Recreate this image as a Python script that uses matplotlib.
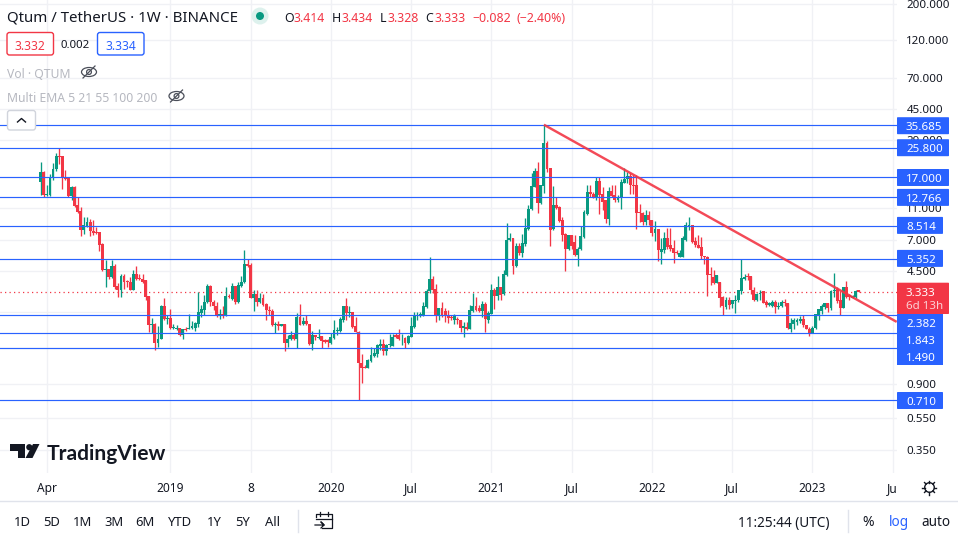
import numpy as np
import pandas as pd
import matplotlib
matplotlib.use("Agg")
import matplotlib.pyplot as plt
import matplotlib.dates as mdates
from matplotlib.patches import FancyBboxPatch, Rectangle, Polygon, Circle, Ellipse

plt.rcParams['font.family'] = ['Noto Sans', 'DejaVu Sans']

start_week = "2018-03-19"

opens = [16.0,18.4,13.2,13.2,17.0,19.1,23.1,23.1,17.2,16.9,
13.0,14.9,11.4,10.5,8.02,8.49,8.99,7.87,7.76,7.80,
6.56,4.55,4.60,4.12,4.80,3.61,3.44,4.16,3.87,3.85,
3.44,4.28,4.06,4.02,3.93,3.13,2.08,2.12,1.61,1.70,
2.71,2.25,2.29,1.99,1.97,1.98,1.79,1.96,1.97,2.00,
2.00,2.10,2.46,2.56,2.89,3.61,2.90,2.71,2.35,2.44,
2.37,3.13,3.01,3.61,2.88,3.61,3.82,4.93,4.87,3.04,
3.22,2.88,3.04,2.79,2.56,2.54,2.07,2.12,2.06,2.10,
1.61,1.69,1.79,1.69,2.33,2.10,2.19,2.12,1.58,1.79,
1.72,1.77,1.67,1.67,1.61,1.72,1.90,1.91,2.24,2.71,
2.46,2.49,2.04,1.89,1.20,1.14,1.13,1.25,1.33,1.37,
1.54,1.58,1.44,1.55,1.54,1.79,1.79,1.69,1.72,1.61,
1.75,2.02,2.35,2.37,2.37,2.69,3.35,3.98,3.47,2.37,
2.64,2.52,2.37,2.33,2.24,2.26,2.22,2.00,2.02,1.96,
2.54,2.74,2.64,2.54,2.79,2.24,2.44,3.41,3.13,3.57,
3.22,4.24,7.01,7.17,4.80,6.38,5.75,6.56,8.18,10.8,
14.9,18.7,11.8,15.1,27.6,19.3,8.10,11.4,11.2,9.25,
7.58,6.09,7.47,6.75,5.60,6.12,7.22,10.1,13.9,13.5,
12.8,16.1,13.4,12.3,9.38,14.0,13.2,12.3,12.8,15.8,
16.5,17.3,15.2,15.2,10.4,10.2,9.0,9.97,9.25,7.65,
8.10,5.86,6.03,7.18,6.47,6.26,5.86,5.48,5.48,7.01,
8.49,8.58,6.88,6.53,6.32,5.53,5.48,4.28,
4.12,3.78,3.84,3.10,2.69,2.95,2.78,2.93,2.95,3.35,4.02,
4.16,4.16,3.44,2.95,3.22,3.35,2.89,2.76,2.73,2.89,
2.69,2.71,2.89,2.85,1.97,2.12,2.17,2.21,2.26,2.07,
1.97,1.86,1.98,2.38,2.54,2.69,2.82,2.66,3.35,3.49,
2.98,2.66,3.57,3.20,3.07,3.10,3.414]

highs = [21.2,18.6,15.2,17.8,21.0,24.2,26.0,23.1,18.9,16.9,
15.0,15.0,12.8,11.1,9.70,9.70,9.34,9.25,8.33,7.80,
6.69,5.23,4.60,5.23,4.93,3.75,4.32,4.28,3.96,4.12,
4.57,4.80,4.32,4.32,3.93,3.13,2.28,2.14,2.04,2.75,
3.03,2.38,2.59,2.10,2.08,2.00,1.97,2.02,2.44,2.19,
2.17,3.31,2.75,3.18,3.72,3.66,2.95,2.90,2.62,2.71,
3.57,3.25,3.78,3.61,3.84,4.20,6.03,5.35,5.02,3.41,
3.41,3.28,3.25,2.82,2.71,2.59,2.18,2.19,2.12,2.10,
1.79,1.91,1.84,2.46,2.79,2.33,2.38,2.12,1.91,1.79,
1.95,1.77,1.71,1.69,1.84,2.22,2.02,2.33,2.71,3.07,
2.71,2.49,2.33,1.91,1.37,1.17,1.27,1.51,1.49,1.58,
1.71,1.71,1.58,1.82,1.82,1.84,1.95,1.82,1.74,1.79,
2.33,2.51,2.51,2.51,2.89,3.49,5.43,4.16,3.72,2.64,
2.90,2.66,2.56,2.38,2.42,2.33,2.24,2.18,2.17,2.75,
3.28,3.10,2.75,2.93,2.89,2.52,3.72,3.54,4.20,3.57,
4.57,8.82,7.65,7.17,6.69,6.69,7.58,9.47,11.4,18.2,
19.5,21.1,15.2,36.0,28.6,19.3,15.0,12.8,11.3,9.60,
7.65,7.47,7.47,7.47,6.32,8.49,10.7,15.2,15.2,13.9,
17.0,17.0,14.9,12.4,14.9,15.2,15.2,13.2,16.5,19.3,
18.4,18.0,17.6,17.6,11.7,10.4,10.7,10.5,9.25,9.15,
8.10,7.12,7.80,8.22,8.22,6.95,6.03,6.03,7.36,9.00,
9.70,8.58,7.22,7.47,7.29,5.58,5.58,4.75,
4.53,4.22,3.84,3.13,3.10,3.10,2.95,3.18,3.41,5.35,4.28,
4.36,4.16,3.57,3.28,3.41,3.35,2.95,2.89,2.95,2.95,
2.89,2.95,2.99,2.85,2.28,2.28,2.28,2.35,2.41,2.07,
2.02,2.04,2.42,2.59,2.79,2.85,2.85,3.44,4.36,3.57,
3.35,3.57,3.87,3.25,3.18,3.41,3.434]

lows = [13.2,12.8,13.0,13.0,16.4,18.7,20.6,14.4,16.4,12.8,
12.3,11.1,10.3,7.40,7.58,8.33,7.36,7.47,7.58,5.97,
4.49,3.57,4.00,4.08,3.49,3.10,3.10,3.49,3.57,3.41,
3.41,3.96,3.93,3.78,2.95,1.87,1.84,1.46,1.52,1.70,
2.24,2.10,1.97,1.95,1.93,1.77,1.69,1.90,1.95,1.95,
1.91,2.02,2.33,2.38,2.85,2.71,2.56,2.31,2.26,2.28,
2.35,3.03,2.95,2.79,2.82,3.57,3.78,4.75,3.03,2.54,
2.71,2.85,2.74,2.22,2.38,2.05,1.84,1.93,2.04,1.44,
1.52,1.67,1.67,1.49,2.07,2.07,2.07,1.56,1.45,1.67,
1.70,1.49,1.61,1.52,1.59,1.70,1.80,1.89,2.17,2.24,
2.33,2.00,1.87,0.715,0.91,1.12,1.12,1.23,1.31,1.31,
1.45,1.35,1.36,1.52,1.54,1.72,1.67,1.56,1.49,1.59,
1.74,2.00,2.22,2.31,2.35,2.66,3.28,3.28,2.16,2.22,
2.33,2.17,2.14,2.22,2.10,2.10,1.87,1.75,1.93,1.95,
2.51,2.54,2.49,2.33,1.88,2.14,2.42,2.62,2.95,2.95,
3.20,4.20,6.88,4.32,4.75,5.64,5.43,6.44,8.02,10.7,
14.8,10.2,11.7,13.7,18.4,6.44,8.02,10.9,9.00,6.90,
4.49,6.03,6.17,5.53,4.84,6.03,7.12,10.0,12.9,12.6,
12.3,10.1,10.7,8.82,8.58,12.8,11.9,12.0,10.9,15.6,
15.6,13.5,13.5,8.10,9.0,8.6,8.6,8.6,7.36,6.90,
5.13,4.98,5.75,6.17,5.97,5.03,5.70,5.48,5.43,6.88,
8.02,6.63,6.32,6.20,5.35,4.98,3.15,3.66,
3.72,3.75,2.69,2.38,2.62,2.62,2.66,2.46,2.89,3.25,3.93,
3.93,3.25,2.93,2.93,2.95,2.82,2.69,2.71,2.69,2.46,
2.62,2.69,2.71,1.95,1.88,1.95,2.07,2.14,2.02,1.95,
1.78,1.84,1.97,2.22,2.44,2.62,2.51,2.56,3.10,2.85,
2.38,2.64,3.03,2.95,3.07,3.07,3.328]

closes = [18.4,13.2,13.4,17.0,19.1,23.1,22.8,17.0,16.6,13.0,
14.9,11.3,10.4,8.02,8.58,8.99,7.87,7.72,7.68,6.50,
4.53,4.60,4.12,4.80,3.57,3.44,4.16,3.84,3.84,3.44,
4.28,4.02,4.00,3.82,3.10,2.08,2.12,1.61,1.71,2.71,
2.25,2.29,1.98,2.02,2.00,1.79,1.95,1.93,2.00,2.04,
2.14,2.49,2.59,2.90,3.61,2.89,2.71,2.35,2.44,2.36,
3.13,3.10,3.61,2.88,3.66,3.84,4.93,4.84,3.05,3.22,
2.88,3.04,2.77,2.56,2.52,2.07,2.12,2.04,2.10,1.61,
1.70,1.79,1.70,2.33,2.08,2.19,2.10,1.58,1.79,1.74,
1.75,1.66,1.64,1.62,1.74,1.93,1.93,2.25,2.71,2.46,
2.51,2.02,1.89,1.20,1.13,1.13,1.26,1.35,1.40,1.55,
1.58,1.44,1.56,1.58,1.75,1.74,1.69,1.71,1.61,1.77,
2.04,2.37,2.40,2.42,2.71,3.35,3.98,3.44,2.37,2.64,
2.40,2.36,2.29,2.29,2.37,2.22,1.98,2.04,1.95,2.56,
2.74,2.56,2.54,2.79,2.25,2.46,3.41,3.13,3.57,3.20,
4.28,7.01,7.17,4.80,6.38,5.75,6.63,8.26,10.8,15.0,
18.7,11.8,15.2,27.6,19.1,8.02,11.4,11.0,9.15,7.47,
6.12,7.47,6.38,5.60,6.17,7.36,10.4,13.8,13.4,12.8,
16.1,13.2,12.0,9.38,14.0,13.0,12.3,12.9,15.9,16.5,
17.3,15.2,15.1,10.3,10.2,9.0,9.97,9.25,7.65,8.10,
6.03,6.12,7.18,6.32,6.09,5.79,5.79,5.75,7.12,8.58,
8.58,6.79,6.47,6.26,5.53,5.43,4.22,4.22,
3.78,4.22,3.07,2.71,2.95,2.76,2.95,2.98,3.41,4.08,4.12,
4.10,3.41,2.95,3.25,3.28,2.85,2.76,2.85,2.89,2.69,
2.74,2.89,2.82,1.99,2.14,2.22,2.22,2.26,2.07,1.97,
1.86,2.00,2.42,2.59,2.74,2.82,2.66,3.38,3.44,2.93,
2.66,3.57,3.10,3.10,3.13,3.38,3.333]

level_prices = [35.685, 25.800, 17.000, 12.766, 8.514, 5.352, 2.382, 1.843, 1.490, 0.710]
last_price = 3.333
trend_dates = ["2021-05-03", "2023-07-12"]
trend_prices = [36.0, 2.17]
price_ticks = [200, 120, 70, 45, 29, 11, 7, 4.5, 2.5, 1.5, 0.9, 0.55, 0.35]
price_tick_labels = ["200.000", "120.000", "70.000", "45.000", "29.000", "11.000", "7.000",
                     "4.500", "", "", "0.900", "0.550", "0.350"]
time_tick_dates = ["2018-04-02", "2019-01-07", "2019-07-08", "2020-01-06", "2020-07-06", "2021-01-04",
                   "2021-07-05", "2022-01-03", "2022-07-04", "2023-01-02", "2023-07-03"]
time_tick_labels = ["Apr", "2019", "8", "2020", "Jul", "2021", "Jul", "2022", "Jul", "2023", "Ju"]

RED, GREEN, BLUE = "#F23645", "#089981", "#2962FF"
INK, GRID = "#131722", "#F0F1F5"
W, H = 958, 537
PX_PER_WEEK = 3.087
FIRST_X = 40.7
PANEL_R, PANEL_B = 897, 472.7

dates = pd.date_range(start_week, periods=len(opens), freq="7D")
o, h, l, c = map(np.array, (opens, highs, lows, closes))
up = c >= o

fig = plt.figure(figsize=(W / 100, H / 100), dpi=100, facecolor="white")
ax = fig.add_axes([0, 1 - PANEL_B / H, PANEL_R / W, PANEL_B / H])
ax.set_yscale("log")
t0 = mdates.date2num(dates[0])
ax.xaxis_date()
ax.set_xlim(t0 - FIRST_X / PX_PER_WEEK * 7, t0 + (PANEL_R - FIRST_X) / PX_PER_WEEK * 7)
y_a, y_b = 125.33, 400.3
per_decade = (y_b - y_a) / (np.log10(35.685) - np.log10(0.71))
ax.set_ylim(10 ** (np.log10(0.71) - (PANEL_B - y_b) / per_decade), 10 ** (np.log10(35.685) + y_a / per_decade))

ax.set_yticks(price_ticks, price_tick_labels)
ax.yaxis.tick_right()
ax.yaxis.set_minor_locator(matplotlib.ticker.NullLocator())
ax.set_xticks([mdates.date2num(pd.Timestamp(d)) for d in time_tick_dates], time_tick_labels)
ax.tick_params(axis="both", length=0, labelcolor=INK)
ax.tick_params(axis="x", pad=6.5, labelsize=8.6)
ax.tick_params(axis="y", pad=6.8, labelsize=8.3)
ax.grid(True, color=GRID, lw=1)
ax.set_axisbelow(True)
for s in ax.spines.values():
    s.set_visible(False)

width = 2.9 / PX_PER_WEEK * 7
cols = np.where(up, GREEN, RED)
ax.vlines(dates, l, h, colors=cols, lw=0.95, zorder=3)
ax.bar(dates, np.maximum(np.abs(c - o), 0.0001), bottom=np.minimum(c, o), width=width,
       color=cols, linewidth=0, zorder=3)

for p in level_prices:
    ax.axhline(p, color=BLUE, lw=0.85, zorder=4)
ax.axhline(last_price, color=RED, lw=0.9, ls=(0, (1, 2.6)), zorder=2)
ax.plot(pd.to_datetime(trend_dates), trend_prices, color=RED, lw=1.75, alpha=0.9, zorder=5,
        solid_capstyle="butt")

ui = fig.add_axes([0, 0, 1, 1], facecolor="none")
ui.set_xlim(0, W)
ui.set_ylim(H, 0)
ui.axis("off")


def T(x, y, s, size=12, color=INK, ha="left", weight="normal", alpha=1.0, family=None, z=20):
    kw = {"family": family} if family else {}
    return ui.text(x, y, s, fontsize=size * 0.72, color=color, ha=ha, va="center_baseline",
                   fontweight=weight, alpha=alpha, zorder=z, **kw)


def box(x0, y0, x1, y1, fc, ec="none", r=0.0, lw=1.0, z=10):
    if r:
        ui.add_patch(FancyBboxPatch((x0 + r, y0 + r), x1 - x0 - 2 * r, y1 - y0 - 2 * r,
                                    boxstyle=f"round,pad={r},rounding_size={r}", fc=fc, ec=ec, lw=lw, zorder=z))
    else:
        ui.add_patch(Rectangle((x0, y0), x1 - x0, y1 - y0, fc=fc, ec=ec, lw=lw, zorder=z))


def eye(cx, cy):
    ui.add_patch(Ellipse((cx, cy), 15, 9, fc="none", ec="#4A4E59", lw=0.9, zorder=20))
    ui.add_patch(Circle((cx, cy), 2.4, fc="none", ec="#4A4E59", lw=0.9, zorder=20))
    ui.plot([cx - 6, cx + 6], [cy + 6, cy - 6], color="#4A4E59", lw=0.9, zorder=21)


T(7, 16.5, "Qtum / TetherUS · 1W · BINANCE", size=15)
ui.add_patch(Circle((260, 16), 8.5, fc="#DDF1ED", ec="none", zorder=10))
ui.add_patch(Circle((260, 16), 4, fc=GREEN, ec="none", zorder=11))
legend = [(284, "O", INK), (294, "3.414", RED), (332, "H", INK), (342, "3.434", RED), (380, "L", INK),
          (388, "3.328", RED), (425, "C", INK), (435, "3.333", RED), (472, "−0.082", RED), (517, "(−2.40%)", RED)]
for x, s, col in legend:
    T(x, 17, s, size=12.3, color=col)
box(7, 32.5, 53.5, 55, "white", ec=RED, r=2.5)
T(30, 44.5, "3.332", size=12, color=RED, ha="center")
T(75.5, 44.5, "0.002", size=11.5, ha="center")
box(97.5, 32.5, 144, 55, "white", ec=BLUE, r=2.5)
T(121, 44.5, "3.334", size=12, color=BLUE, ha="center")
T(7, 72.5, "Vol · QTUM", size=12.2, color="#B6B8C0")
eye(89, 72)
T(7, 97, "Multi EMA 5 21 55 100 200", size=12.2, color="#B6B8C0")
eye(176.5, 96)
box(7.5, 110.5, 35.5, 130, "white", ec="#D1D4DC", r=2.5)
ui.plot([17.5, 21.5, 25.5], [122, 118.5, 122], color=INK, lw=1.0, zorder=20)

label_rows = [(125.7, "35.685", 949), (147.7, "25.800", 949), (177.5, "17.000", 949), (197.4, "12.766", 949),
              (225.4, "8.514", 943), (258.4, "5.352", 943), (400.5, "0.710", 943),
              (322.5, "2.382", 943), (339.5, "1.843", 943), (356.5, "1.490", 943)]
box(897, 314, 943, 365, BLUE)
for yc, s, xr in label_rows:
    box(897, yc - 8.5, xr, yc + 8.5, BLUE, r=0.8)
    T(906, yc + 0.3, s, size=11.6, color="white", weight="medium", z=22)
box(897, 282.7, 949, 314, RED, r=0.8, z=12)
T(906, 291.6, "3.333", size=11.6, color="white", z=22)
T(906, 305, "6d 13h", size=11.6, color="#FBD0D4", z=22)

ui.add_patch(Polygon([(10, 444), (25, 444), (25, 458), (18, 458), (18, 450.5), (10, 450.5)], fc=INK, ec="none", zorder=20))
ui.add_patch(Circle((29.3, 447.2), 3.1, fc=INK, ec="none", zorder=20))
ui.add_patch(Polygon([(33, 444), (39.5, 444), (32.5, 458), (25.5, 458)], fc=INK, ec="none", zorder=20))
T(46.5, 452, "TradingView", size=21, weight="bold", family=["Lato", "DejaVu Sans"])

ui.add_patch(Circle((929.5, 487.5), 4.8, fc="none", ec=INK, lw=1.0, zorder=20))
for a in np.arange(0, 360, 45):
    ca, sa = np.cos(np.radians(a)), np.sin(np.radians(a))
    ui.plot([929.5 + 4.8 * ca, 929.5 + 7 * ca], [487.5 + 4.8 * sa, 487.5 + 7 * sa], color=INK, lw=1.0, zorder=20)

ui.plot([0, W], [501, 501], color="#E0E3EB", lw=1, zorder=5)
for x, s in zip([22, 52, 83, 114, 145, 180, 214, 243, 273], ["1D", "5D", "1M", "3M", "6M", "YTD", "1Y", "5Y", "All"]):
    T(x, 521, s, size=13, ha="center")
ui.plot([298, 298], [510, 532], color="#E0E3EB", lw=1, zorder=5)
ui.plot([848, 848], [510, 532], color="#E0E3EB", lw=1, zorder=5)
ui.plot([316, 316, 332, 332, 322], [517, 514, 514, 528, 528], color=INK, lw=0.9, zorder=20)
ui.plot([316, 332], [518.5, 518.5], color=INK, lw=0.9, zorder=20)
ui.plot([320, 320], [512, 516], color=INK, lw=0.9, zorder=20)
ui.plot([328, 328], [512, 516], color=INK, lw=0.9, zorder=20)
ui.plot([315, 324, 321, 324, 321], [525, 525, 522, 525, 528], color=INK, lw=0.9, zorder=20)
T(738.5, 521, "11:25:44 (UTC)", size=13.6)
T(868, 521, "%", size=14, ha="center")
T(899, 521, "log", size=13.5, color=BLUE, ha="center")
T(936, 521, "auto", size=13.5, ha="center")

fig.savefig("out.png", dpi=100, facecolor="white")
